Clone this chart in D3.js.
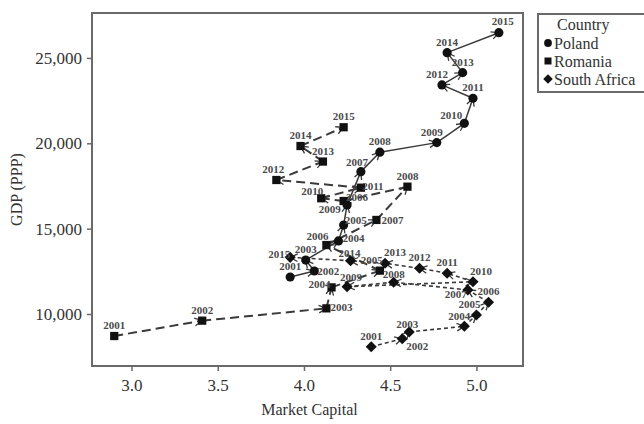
<!DOCTYPE html>
<html>
<head>
<meta charset="utf-8">
<script src="https://cdn.jsdelivr.net/npm/d3@7"></script>
<style>
  body { margin: 0; background: #fff; }
  svg text { font-family: "Liberation Serif", "Times New Roman", serif; }
</style>
</head>
<body>
<svg id="chart" width="644" height="424"></svg>
<script>
// Years shared by every country
const years = [2001, 2002, 2003, 2004, 2005, 2006, 2007, 2008, 2009, 2010, 2011, 2012, 2013, 2014, 2015];

// Market capitalisation (x) and GDP per capita, PPP (y)
const polandCap = [3.92, 4.06, 4.01, 4.20, 4.23, 4.25, 4.33, 4.44, 4.77, 4.93, 4.98, 4.80, 4.92, 4.83, 5.13];
const polandGdp = [12170, 12520, 13160, 14280, 15210, 16390, 18340, 19480, 20040, 21170, 22640, 23420, 24140, 25310, 26480];

const romaniaCap = [2.90, 3.41, 4.13, 4.16, 4.44, 4.13, 4.42, 4.60, 4.23, 4.10, 4.33, 3.84, 4.11, 3.98, 4.23];
const romaniaGdp = [8710, 9610, 10330, 11560, 12540, 14040, 15510, 17460, 16620, 16780, 17400, 17850, 18930, 19840, 20940];

const safricaCap = [4.39, 4.57, 4.61, 4.93, 5.00, 5.07, 4.95, 4.52, 4.25, 4.98, 4.83, 4.67, 4.47, 4.27, 3.92];
const safricaGdp = [8080, 8550, 8950, 9280, 9940, 10690, 11410, 11860, 11600, 11890, 12390, 12680, 12970, 13120, 13320];

const countries = ["Poland", "Romania", "South Africa"];
const xTicks = [3.0, 3.5, 4.0, 4.5, 5.0];
const yTicks = [10000, 15000, 20000, 25000];

// Year-label nudges (label centre relative to the point, px) to keep labels readable
const defaultNudge = [0, -11];
const labelNudge = {
  "Poland": {2002: [14, 0], 2004: [15, -3], 2005: [12, -5], 2006: [10, -8], 2007: [-4, -10],
             2009: [-5, -11], 2010: [-13, -8], 2012: [-5, -11], 2015: [4, -12]},
  "Romania": {2003: [15, -1], 2004: [-12, -3], 2005: [-8, -11], 2006: [-9, -9], 2007: [16, 0],
              2009: [-14, 8], 2010: [-9, -7], 2011: [12, -2], 2012: [-3, -11]},
  "South Africa": {2002: [15, 7], 2003: [-2, -8], 2004: [-5, -10], 2005: [-7, -11], 2007: [-12, 4],
                   2008: [0, -8], 2009: [4, -10], 2010: [8, -11], 2013: [10, -11], 2014: [-1, -8],
                   2015: [-11, -3]}
};

const series = [
  {name: countries[0], cap: polandCap, gdp: polandGdp, shape: "circle", dash: null, width: 1.5},
  {name: countries[1], cap: romaniaCap, gdp: romaniaGdp, shape: "square", dash: "9,5", width: 2},
  {name: countries[2], cap: safricaCap, gdp: safricaGdp, shape: "diamond", dash: "4,3", width: 1.6}
].map(s => ({...s, points: years.map((yr, i) => ({year: yr, x: s.cap[i], y: s.gdp[i]}))}));

const svg = d3.select("#chart");
const frame = {left: 92, right: 523, top: 13, bottom: 366};

const x = d3.scaleLinear().domain([2.771, 5.270]).range([frame.left, frame.right]);
const y = d3.scaleLinear().domain([6954, 27633]).range([frame.bottom, frame.top]);

const ink = "#3a3a3a";
const axisGrey = "#6a6a6a";

// Arrowhead used at the end of every year-to-year step
const defs = svg.append("defs");
defs.append("marker")
  .attr("id", "arrow")
  .attr("markerUnits", "userSpaceOnUse")
  .attr("viewBox", "-9 -5 10 10")
  .attr("refX", 0).attr("refY", 0)
  .attr("markerWidth", 10).attr("markerHeight", 10)
  .attr("orient", "auto")
  .append("path")
  .attr("d", "M-7.5,-3.8 L0,0 L-7.5,3.8")
  .attr("fill", "none")
  .attr("stroke", ink)
  .attr("stroke-width", 1.3);

// Axes
const xAxis = d3.axisBottom(x).tickValues(xTicks).tickFormat(d3.format(".1f")).tickSize(5).tickPadding(8);
const yAxis = d3.axisLeft(y).tickValues(yTicks).tickFormat(d3.format(",")).tickSize(5).tickPadding(5);

const gx = svg.append("g").attr("transform", `translate(0,${frame.bottom})`).call(xAxis);
const gy = svg.append("g").attr("transform", `translate(${frame.left},0)`).call(yAxis);
[gx, gy].forEach(g => {
  g.select(".domain").remove();
  g.selectAll(".tick line").attr("stroke", axisGrey).attr("stroke-width", 1.5);
  g.selectAll(".tick text").attr("fill", "#333").style("font-size", "17px")
    .style("font-family", "'Liberation Serif', serif");
});

// Panel frame
svg.append("rect")
  .attr("x", frame.left).attr("y", frame.top)
  .attr("width", frame.right - frame.left).attr("height", frame.bottom - frame.top)
  .attr("fill", "none").attr("stroke", axisGrey).attr("stroke-width", 2);

// Axis titles
svg.append("text")
  .attr("x", (frame.left + frame.right) / 2 + 2).attr("y", 415)
  .attr("text-anchor", "middle").attr("fill", "#333").style("font-size", "16px")
  .text("Market Capital");
svg.append("text")
  .attr("transform", `translate(22,${(frame.top + frame.bottom) / 2}) rotate(-90)`)
  .attr("text-anchor", "middle").attr("fill", "#333").style("font-size", "16px")
  .text("GDP (PPP)");

const plot = svg.append("g");

// Year-to-year steps with arrowheads
series.forEach(s => {
  const steps = d3.pairs(s.points);
  plot.append("g").selectAll("line").data(steps).join("line")
    .attr("x1", d => x(d[0].x)).attr("y1", d => y(d[0].y))
    .attr("x2", d => x(d[1].x)).attr("y2", d => y(d[1].y))
    .attr("stroke", ink)
    .attr("stroke-width", s.width)
    .attr("stroke-dasharray", s.dash)
    .attr("marker-end", "url(#arrow)");
});

// Point symbols
function symbolPath(shape, scale) {
  const k = scale || 1;
  if (shape === "circle") return d3.symbol(d3.symbolCircle, 66 * k * k)();
  if (shape === "square") return d3.symbol(d3.symbolSquare, 68 * k * k)();
  return d3.symbol(d3.symbolSquare, 62 * k * k)();
}
series.forEach(s => {
  plot.append("g").selectAll("path").data(s.points).join("path")
    .attr("d", symbolPath(s.shape))
    .attr("transform", d => `translate(${x(d.x)},${y(d.y)})` + (s.shape === "diamond" ? " rotate(45)" : ""))
    .attr("fill", "#111");
});

// Year labels
series.forEach(s => {
  const nudges = labelNudge[s.name] || {};
  plot.append("g").selectAll("text").data(s.points).join("text")
    .attr("x", d => x(d.x) + (nudges[d.year] || defaultNudge)[0])
    .attr("y", d => y(d.y) + (nudges[d.year] || defaultNudge)[1] + 4)
    .attr("text-anchor", "middle")
    .attr("fill", "#4a4a4a")
    .style("font-size", "11px")
    .style("font-weight", "bold")
    .text(d => d.year);
});

// Legend
const legend = svg.append("g").attr("transform", "translate(538,14)");
legend.append("rect")
  .attr("x", 0).attr("y", 0).attr("width", 112).attr("height", 78)
  .attr("fill", "#fff").attr("stroke", axisGrey).attr("stroke-width", 2);
legend.append("text")
  .attr("x", 19).attr("y", 16).attr("fill", "#333").style("font-size", "16px")
  .text("Country");
series.forEach((s, i) => {
  const row = legend.append("g").attr("transform", `translate(0,${29 + i * 18})`);
  row.append("path")
    .attr("d", symbolPath(s.shape, 0.85))
    .attr("transform", "translate(10,0)" + (s.shape === "diamond" ? " rotate(45)" : ""))
    .attr("fill", "#111");
  row.append("text")
    .attr("x", 16).attr("y", 5.5).attr("fill", "#333").style("font-size", "16px")
    .text(s.name);
});
</script>
</body>
</html>
